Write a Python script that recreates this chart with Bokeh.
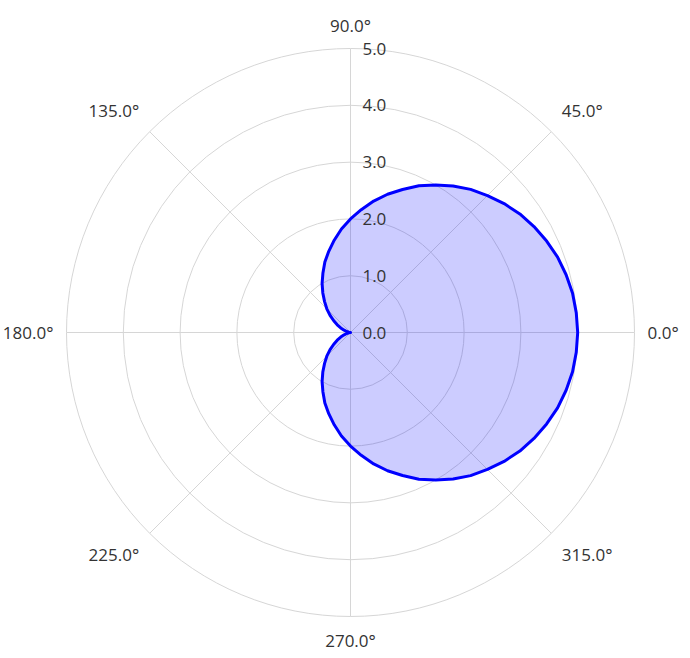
import numpy as np
from bokeh.plotting import figure
from bokeh.models import Range1d, ColumnDataSource
from bokeh.core.properties import value
from bokeh.embed import file_html
from bokeh.resources import INLINE

# Data (cardioid, r in radial units, theta in degrees)
theta_deg = [0, 5, 10, 15, 20, 25, 30, 35, 40, 45, 50, 55, 60, 65, 70, 75, 80, 85,
             90, 95, 100, 105, 110, 115, 120, 125, 130, 135, 140, 145, 150, 155, 160,
             165, 170, 175, 180, 185, 190, 195, 200, 205, 210, 215, 220, 225, 230,
             235, 240, 245, 250, 255, 260, 265, 270, 275, 280, 285, 290, 295, 300,
             305, 310, 315, 320, 325, 330, 335, 340, 345, 350, 355, 360]
r_values = [4.00, 3.99, 3.97, 3.93, 3.88, 3.81, 3.73, 3.64, 3.53, 3.41, 3.29, 3.15,
            3.00, 2.85, 2.68, 2.52, 2.35, 2.17, 2.00, 1.83, 1.65, 1.48, 1.32, 1.15,
            1.00, 0.85, 0.71, 0.59, 0.47, 0.36, 0.27, 0.19, 0.12, 0.07, 0.03, 0.01,
            0.00, 0.01, 0.03, 0.07, 0.12, 0.19, 0.27, 0.36, 0.47, 0.59, 0.71, 0.85,
            1.00, 1.15, 1.32, 1.48, 1.65, 1.83, 2.00, 2.17, 2.35, 2.52, 2.68, 2.85,
            3.00, 3.15, 3.29, 3.41, 3.53, 3.64, 3.73, 3.81, 3.88, 3.93, 3.97, 3.99,
            4.00]
radial_ticks = [0, 1, 2, 3, 4, 5]
radial_labels = ["0.0", "1.0", "2.0", "3.0", "4.0", "5.0"]
angle_ticks = [0, 45, 90, 135, 180, 225, 270, 315]
angle_labels = ["0.0°", "45.0°", "90.0°", "135.0°", "180.0°", "225.0°", "270.0°", "315.0°"]

R_MAX = 5.0
UNIT = 56.8  # px per radial unit
W, H = 690, 658
CX, CY = 350, 332

p = figure(width=W, height=H, output_backend="svg", toolbar_location=None,
           x_range=Range1d(-CX / UNIT, (W - CX) / UNIT),
           y_range=Range1d(-(H - CY) / UNIT, CY / UNIT),
           min_border=0, x_axis_location=None, y_axis_location=None)
p.xgrid.visible = False
p.ygrid.visible = False
p.outline_line_color = None
p.background_fill_color = "white"
p.border_fill_color = "white"

grid_color = "#d6d6d6"
text_color = "#333333"
font = value("Open Sans")

# circular grid
for rr in radial_ticks[1:]:
    p.circle(x=0, y=0, radius=rr, fill_color=None, line_color=grid_color, line_width=1)

# radial grid lines
ang = np.radians(angle_ticks)
p.segment(x0=[0] * len(ang), y0=[0] * len(ang),
          x1=list(R_MAX * np.cos(ang)), y1=list(R_MAX * np.sin(ang)),
          line_color=grid_color, line_width=1)

# data
th = np.radians(theta_deg)
r = np.array(r_values)
xs = r * np.cos(th)
ys = r * np.sin(th)
p.patch(list(xs), list(ys), fill_color="#0000ff", fill_alpha=0.2,
        line_color="blue", line_width=3, line_join="round")

# radial labels
src_r = ColumnDataSource(dict(x=[0.21] * len(radial_ticks), y=radial_ticks, t=radial_labels))
p.text(x="x", y="y", text="t", source=src_r, text_font=font, text_font_size="17px",
       text_color=text_color, text_align="left", text_baseline="middle")

# angle labels, placed just outside the outer ring, aligned away from centre
for a_deg, lab in zip(angle_ticks, angle_labels):
    a = np.radians(a_deg)
    c, s = np.cos(a), np.sin(a)
    sx = 0 if abs(c) < 1e-6 else np.sign(c)
    sy = 0 if abs(s) < 1e-6 else np.sign(s)
    diag = sx != 0 and sy != 0
    gx = (10.5 if diag else 13.0) / UNIT
    gy = (21.5 if diag else 23.5) / UNIT
    x = R_MAX * c + sx * gx
    y = R_MAX * s + sy * gy
    align = "left" if sx > 0 else ("right" if sx < 0 else "center")
    p.text(x=[x], y=[y], text=[lab], text_font=font, text_font_size="17px",
           text_color=text_color, text_align=align, text_baseline="middle")

open("out.html", "w").write(file_html(p, INLINE))
